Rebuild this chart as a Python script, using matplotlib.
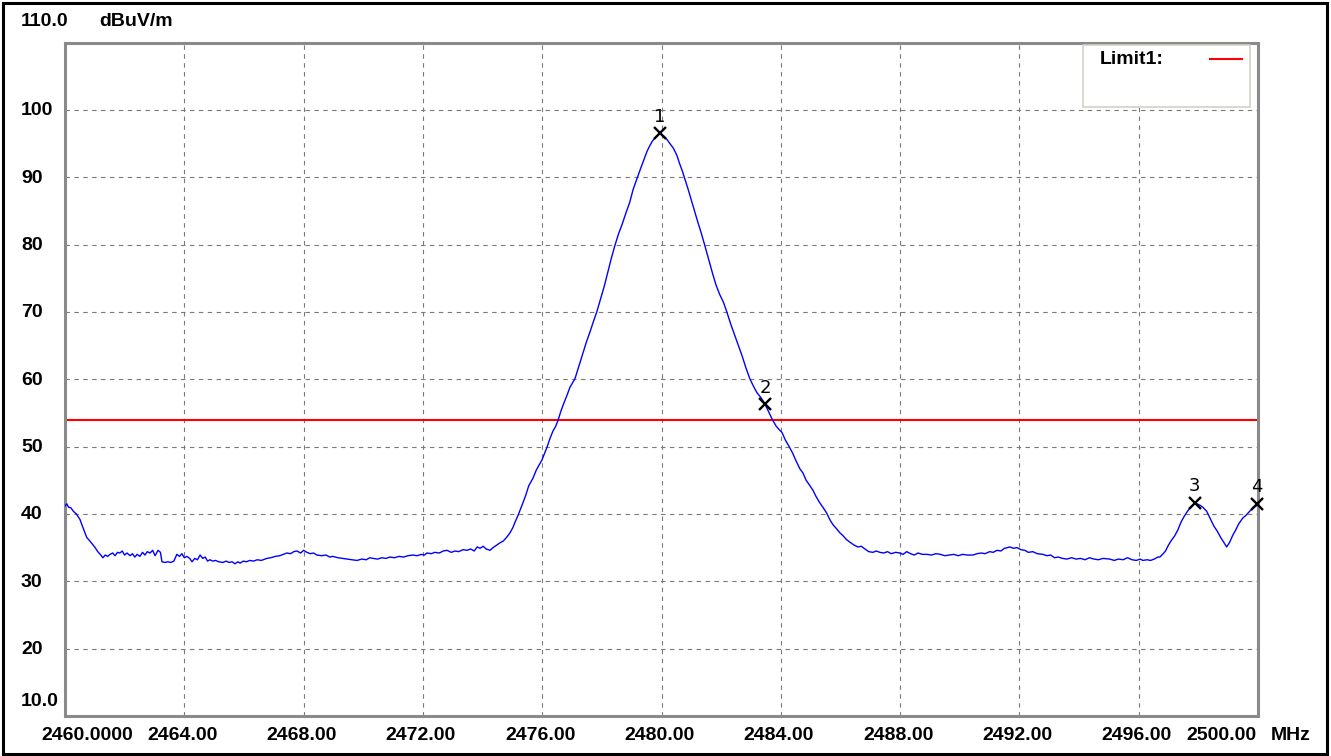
import matplotlib
matplotlib.use("Agg")
import matplotlib.pyplot as plt
from matplotlib.patches import Rectangle
from matplotlib.lines import Line2D
from matplotlib.transforms import offset_copy

# trace, (MHz, dBuV/m)
floor_left = [
    (2460.00, 41.2), (2460.06, 41.5), (2460.12, 41.0), (2460.20, 40.9), (2460.28, 40.4),
    (2460.38, 40.0), (2460.50, 39.2), (2460.60, 38.0), (2460.73, 36.5), (2460.85, 35.9),
    (2461.01, 35.0), (2461.10, 34.4), (2461.20, 33.9), (2461.27, 33.5), (2461.35, 33.9),
    (2461.43, 33.7), (2461.51, 34.0), (2461.60, 34.2), (2461.68, 33.8), (2461.76, 34.3),
    (2461.84, 34.2), (2461.92, 34.5), (2462.00, 33.9), (2462.08, 34.2), (2462.18, 33.8),
    (2462.26, 34.1), (2462.34, 33.6), (2462.42, 34.0), (2462.51, 33.7), (2462.60, 34.3),
    (2462.68, 33.9), (2462.76, 34.4), (2462.85, 34.2), (2462.94, 34.6), (2463.02, 33.8),
    (2463.12, 34.6), (2463.20, 34.3), (2463.25, 32.9), (2463.35, 32.8), (2463.45, 32.9),
    (2463.55, 32.8), (2463.65, 33.0), (2463.75, 34.0), (2463.84, 33.7), (2463.92, 34.1),
    (2464.00, 33.5), (2464.09, 33.7), (2464.18, 33.4), (2464.26, 32.9), (2464.35, 33.4),
    (2464.44, 33.2), (2464.53, 33.9), (2464.62, 33.4), (2464.70, 33.6), (2464.78, 33.0),
    (2464.86, 33.2), (2464.95, 33.0), (2465.05, 33.1), (2465.15, 32.9), (2465.30, 32.8),
    (2465.40, 33.0), (2465.50, 32.8), (2465.60, 32.9), (2465.70, 32.6), (2465.80, 32.9),
    (2465.87, 32.7), (2465.98, 33.0), (2466.08, 32.9), (2466.20, 33.1), (2466.32, 33.0),
    (2466.45, 33.2), (2466.58, 33.1), (2466.77, 33.4), (2466.90, 33.5), (2467.05, 33.7),
    (2467.20, 33.8), (2467.32, 34.0), (2467.44, 34.2), (2467.56, 34.1), (2467.67, 34.4),
    (2467.78, 34.5), (2467.90, 34.2), (2468.00, 34.6), (2468.11, 34.3), (2468.22, 34.1),
    (2468.33, 34.2), (2468.45, 33.9), (2468.60, 33.8), (2468.75, 33.9), (2468.88, 33.6),
    (2468.98, 33.7), (2469.15, 33.5), (2469.30, 33.4), (2469.45, 33.3), (2469.62, 33.2),
    (2469.79, 33.1), (2469.95, 33.3), (2470.10, 33.2), (2470.22, 33.5), (2470.33, 33.4),
    (2470.48, 33.3), (2470.62, 33.5), (2470.75, 33.4), (2470.90, 33.6), (2471.05, 33.5),
    (2471.20, 33.7), (2471.35, 33.6), (2471.50, 33.8), (2471.67, 33.9), (2471.80, 33.8),
    (2471.95, 34.0), (2472.05, 33.9), (2472.14, 34.2), (2472.28, 34.1), (2472.40, 34.3),
    (2472.55, 34.2), (2472.68, 34.5), (2472.81, 34.6), (2472.95, 34.3), (2473.08, 34.5),
    (2473.20, 34.4), (2473.35, 34.7), (2473.48, 34.6), (2473.60, 34.8), (2473.72, 34.5),
    (2473.82, 35.1), (2473.92, 34.9), (2474.02, 35.2), (2474.12, 34.8), (2474.25, 34.6),
    (2474.35, 35.0), (2474.45, 35.3), (2474.58, 35.7), (2474.70, 36.0), (2474.82, 36.6),
    (2474.92, 37.2),
]

main_lobe = [
    (2475.02, 38.0), (2475.10, 38.9), (2475.19, 39.8), (2475.27, 40.7), (2475.35, 41.6),
    (2475.45, 42.8), (2475.55, 44.2), (2475.69, 45.3), (2475.80, 46.5), (2475.90, 47.3),
    (2475.99, 48.0), (2476.08, 49.0), (2476.16, 49.9), (2476.26, 51.2), (2476.36, 52.3),
    (2476.45, 53.0), (2476.53, 53.9), (2476.63, 55.3), (2476.73, 56.5), (2476.83, 57.6),
    (2476.93, 58.8), (2477.02, 59.5), (2477.10, 60.1), (2477.22, 61.8), (2477.35, 63.6),
    (2477.48, 65.5), (2477.60, 67.0), (2477.72, 68.6), (2477.83, 70.0), (2477.95, 71.8),
    (2478.08, 73.8), (2478.20, 75.9), (2478.32, 78.0), (2478.44, 79.9), (2478.56, 81.6),
    (2478.68, 83.0), (2478.80, 84.6), (2478.93, 86.2), (2479.05, 88.2), (2479.18, 89.8),
    (2479.30, 91.3), (2479.42, 92.7), (2479.52, 93.9), (2479.61, 94.7), (2479.70, 95.4),
    (2479.80, 95.9), (2479.88, 96.3), (2479.95, 96.5), (2480.05, 96.2), (2480.15, 95.8),
    (2480.28, 95.0), (2480.40, 94.3), (2480.52, 93.2), (2480.60, 92.1), (2480.70, 90.9),
    (2480.78, 89.8), (2480.90, 88.1), (2481.02, 86.3), (2481.12, 84.8), (2481.22, 83.3),
    (2481.34, 81.6), (2481.45, 79.9), (2481.58, 77.8), (2481.70, 75.9), (2481.82, 74.1),
    (2481.95, 72.6), (2482.08, 71.4), (2482.19, 70.0), (2482.32, 68.2), (2482.45, 66.6),
    (2482.58, 65.0), (2482.70, 63.5), (2482.83, 61.7), (2482.96, 60.1), (2483.08, 59.0),
    (2483.20, 58.0), (2483.33, 57.3), (2483.47, 56.3), (2483.60, 55.1), (2483.73, 53.9),
    (2483.85, 53.0), (2483.95, 52.5), (2484.04, 52.1), (2484.15, 51.0), (2484.28, 50.0),
    (2484.40, 49.0), (2484.52, 47.8), (2484.64, 46.7), (2484.74, 46.1), (2484.85, 45.0),
    (2484.96, 44.3), (2485.08, 43.5), (2485.18, 42.6), (2485.30, 41.7), (2485.41, 41.0),
    (2485.53, 40.2), (2485.65, 39.1), (2485.75, 38.4), (2485.85, 37.9), (2485.98, 37.2),
    (2486.08, 36.8), (2486.20, 36.2), (2486.32, 35.8), (2486.45, 35.4), (2486.58, 35.1),
    (2486.70, 35.2), (2486.82, 34.8),
]

floor_right = [
    (2486.95, 34.4), (2487.09, 34.3), (2487.20, 34.5), (2487.32, 34.3), (2487.45, 34.2),
    (2487.58, 34.4), (2487.70, 34.1), (2487.85, 34.3), (2487.99, 34.2), (2488.10, 34.0),
    (2488.22, 34.4), (2488.35, 34.1), (2488.48, 33.9), (2488.60, 34.2), (2488.75, 34.0),
    (2488.90, 34.0), (2489.05, 33.9), (2489.20, 34.1), (2489.35, 34.0), (2489.50, 33.8),
    (2489.65, 33.9), (2489.80, 34.0), (2489.95, 33.8), (2490.10, 34.0), (2490.25, 33.9),
    (2490.44, 33.9), (2490.58, 34.1), (2490.72, 34.2), (2490.85, 34.1), (2491.00, 34.4),
    (2491.12, 34.3), (2491.25, 34.6), (2491.38, 34.5), (2491.50, 34.9), (2491.60, 35.0),
    (2491.68, 35.1), (2491.80, 34.9), (2491.92, 35.0), (2492.05, 34.7), (2492.18, 34.6),
    (2492.30, 34.3), (2492.45, 34.4), (2492.60, 34.1), (2492.79, 34.0), (2492.92, 33.8),
    (2493.05, 33.9), (2493.18, 33.5), (2493.30, 33.6), (2493.45, 33.4), (2493.59, 33.3),
    (2493.75, 33.5), (2493.90, 33.3), (2494.05, 33.4), (2494.20, 33.2), (2494.35, 33.5),
    (2494.50, 33.3), (2494.65, 33.2), (2494.80, 33.4), (2495.03, 33.3), (2495.18, 33.1),
    (2495.32, 33.3), (2495.48, 33.2), (2495.62, 33.5), (2495.78, 33.2), (2495.92, 33.1),
    (2496.05, 33.3), (2496.14, 33.1), (2496.28, 33.2), (2496.40, 33.1), (2496.52, 33.3),
    (2496.64, 33.6),
]

band_edge = [
    (2496.71, 33.6), (2496.80, 34.0), (2496.90, 34.5), (2497.00, 35.4), (2497.10, 36.1),
    (2497.20, 36.7), (2497.31, 37.6), (2497.42, 38.8), (2497.52, 39.6), (2497.62, 40.3),
    (2497.72, 40.9), (2497.80, 41.2), (2497.88, 41.6), (2497.96, 41.5), (2498.05, 41.3),
    (2498.15, 41.0), (2498.28, 40.4), (2498.40, 39.3), (2498.52, 38.2), (2498.64, 37.4),
    (2498.75, 36.5), (2498.85, 35.8), (2498.95, 35.1), (2499.05, 35.8), (2499.15, 36.8),
    (2499.25, 37.6), (2499.35, 38.5), (2499.49, 39.4), (2499.60, 39.8), (2499.72, 40.4),
    (2499.85, 40.9), (2500.00, 41.4),
]

limit_level = 54.0

marker_names = ["1", "2", "3", "4"]
marker_freq = [2479.95, 2483.47, 2497.88, 2499.96]
marker_level = [96.5, 56.3, 41.7, 41.5]

y_ticks = [20, 30, 40, 50, 60, 70, 80, 90, 100]
x_ticks = [2464.0, 2468.0, 2472.0, 2476.0, 2480.0, 2484.0, 2488.0, 2492.0, 2496.0]
x_tick_labels = ["2464.00", "2468.00", "2472.00", "2476.00", "2480.00",
                 "2484.00", "2488.00", "2492.00", "2496.00"]

trace = floor_left + main_lobe + floor_right + band_edge
freq = [p[0] for p in trace]
level = [p[1] for p in trace]

W, H = 1331, 756
LEFT, RIGHT, TOP, BOTTOM = 65, 1258, 42.5, 716


def fx(px):
    return px / W


def fy(py):
    return 1 - py / H


label_font = dict(family="Liberation Sans", fontsize=14, fontweight="bold", color="black")

fig = plt.figure(figsize=(W / 100, H / 100), dpi=100)
ax = fig.add_axes([fx(LEFT), fy(BOTTOM), (RIGHT - LEFT) / W, (BOTTOM - TOP) / H])

ax.set_xlim(2460, 2500)
ax.set_ylim(10, 110)
ax.set_xticks(x_ticks)
ax.set_yticks(y_ticks)
ax.tick_params(length=0, labelbottom=False, labelleft=False)
ax.grid(True, linestyle=(0, (4, 4)), linewidth=0.8, color="#7a7a7a")
for s in ax.spines.values():
    s.set_color("#8a8a8a")
    s.set_linewidth(2.2)

# trace, limit and markers
ax.plot(freq, level, color="#0000ff", linewidth=1.0, zorder=3)
ax.axhline(limit_level, color="#ff0000", linewidth=1.5, zorder=2.5)
ax.plot(marker_freq, marker_level, linestyle="none", marker="x", markersize=9,
        markeredgewidth=1.7, color="black", clip_on=False, zorder=4)
for name, f, l in zip(marker_names, marker_freq, marker_level):
    ax.annotate(name, (f, l), xytext=(0, 12), textcoords="offset points",
                ha="center", va="center", fontsize=13, family="DejaVu Sans",
                annotation_clip=False, zorder=5)

# y axis labels
ytr = offset_copy(ax.get_yaxis_transform(), fig=fig, x=0, y=-1, units="dots")
for v in y_ticks:
    ax.text((21 - LEFT) / (RIGHT - LEFT), v, str(v), transform=ytr,
            ha="left", va="center", **label_font)
fig.text(fx(21), fy(701), "10.0", ha="left", va="center", **label_font)
fig.text(fx(21), fy(22), "110.0", ha="left", va="center", **label_font)
fig.text(fx(99), fy(22), "dBuV/m", ha="left", va="center", **label_font)

# x axis labels
xtr = offset_copy(ax.get_xaxis_transform(), fig=fig, x=-2, y=-2, units="dots")
for f, lab in zip(x_ticks, x_tick_labels):
    ax.text(f, (BOTTOM - 733) / (BOTTOM - TOP), lab, transform=xtr,
            ha="center", va="center", **label_font)
fig.text(fx(41), fy(735), "2460.0000", ha="left", va="center", **label_font)
fig.text(fx(1221), fy(735), "2500.00", ha="center", va="center", **label_font)
fig.text(fx(1291), fy(735), "MHz", ha="center", va="center", **label_font)

# legend box
fig.patches.append(Rectangle((fx(1083), fy(107)), (1250 - 1083) / W, (107 - 45) / H,
                             transform=fig.transFigure, facecolor="white",
                             edgecolor="#d4d0c8", linewidth=1.2, zorder=10))
fig.text(fx(1100), fy(60), "Limit1:", ha="left", va="center", zorder=11, **label_font)
fig.lines.append(Line2D([fx(1210), fx(1242)], [fy(59), fy(59)], transform=fig.transFigure,
                        color="#ff0000", linewidth=1.5, zorder=11))

# outer frame
fig.patches.append(Rectangle((fx(3), fy(754)), (1327 - 3) / W, (754 - 3) / H,
                             transform=fig.transFigure, fill=False,
                             edgecolor="black", linewidth=2.2, zorder=12))

fig.savefig("out.png", dpi=100, facecolor="white")
